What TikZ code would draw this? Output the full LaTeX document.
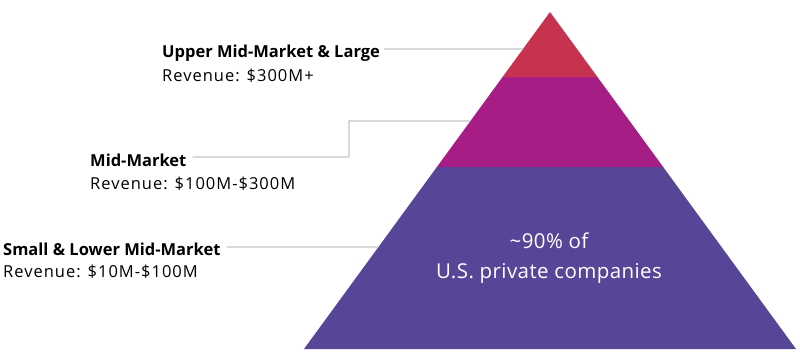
\documentclass[tikz,border=0pt]{standalone}
\usepackage{fontspec}
\setmainfont{Open Sans}
\newfontfamily\revfont[LetterSpace=6]{Open Sans}
\newfontfamily\sharefont[LetterSpace=2]{Open Sans}
\usetikzlibrary{positioning}
\definecolor{topred}{HTML}{C7324F}
\definecolor{midmag}{HTML}{A61D86}
\definecolor{lowpurple}{HTML}{574597}
\definecolor{linegray}{HTML}{C4C4C4}

\tikzset{
  title/.style={anchor=west,inner sep=0pt,font=\fontsize{16.5}{19}\selectfont\bfseries},
  revenue/.style={anchor=west,inner sep=0pt,font=\fontsize{16.5}{19}\selectfont\revfont},
  leader/.style={draw=linegray,line width=1.4pt},
}

\begin{document}
\begin{tikzpicture}[x=1pt,y=-1pt]
  \useasboundingbox (0,0) rectangle (800,361);
  % pyramid corners
  \coordinate (apex) at (550,12);
  \coordinate (bl) at (304,349);
  \coordinate (br) at (796,349);
  % layer cuts
  \path (apex) -- (bl) coordinate[pos=0.193] (cutl1) coordinate[pos=0.46] (cutl2);
  \path (apex) -- (br) coordinate[pos=0.193] (cutr1) coordinate[pos=0.46] (cutr2);
  \fill[lowpurple] (cutl2) -- (bl) -- (br) -- (cutr2) -- cycle;
  \fill[midmag] (cutl1) -- (cutl2) -- (cutr2) -- (cutr1) -- cycle;
  \fill[topred] (apex) -- (cutl1) -- (cutr1) -- cycle;
  % points on the left edge
  \path (apex) -- (bl) coordinate[pos=0.1098] (hitA) coordinate[pos=0.3234] (hitB) coordinate[pos=0.6973] (hitC);
  \coordinate (kneeB) at (349,121);

  % labels
  \node[title] (upper) at (162,53) {Upper Mid-Market \& Large};
  \node[revenue] (upperrev) at (162,76) {Revenue: \$300M+};
  \node[title] (mid) at (90,160) {Mid-Market};
  \node[revenue] (midrev) at (90,184) {Revenue: \$100M-\$300M};
  \node[title] (small) at (3,249) {Small \& Lower Mid-Market};
  \node[revenue] (smallrev) at (3,272) {Revenue: \$10M-\$100M};

  % leaders
  \draw[leader] ([shift={(4,-4)}]upper.east) -- (hitA);
  \draw[leader] ([shift={(6,-3)}]mid.east) -| (kneeB) -- (hitB);
  \draw[leader] ([shift={(6,-2)}]small.east) -- (hitC);

  % text in the base
  \node[white,align=center,font=\fontsize{20.5}{30}\selectfont\sharefont] (share) at (549,258) {\char`\~90\% of\\U.S. private companies};
\end{tikzpicture}
\end{document}
